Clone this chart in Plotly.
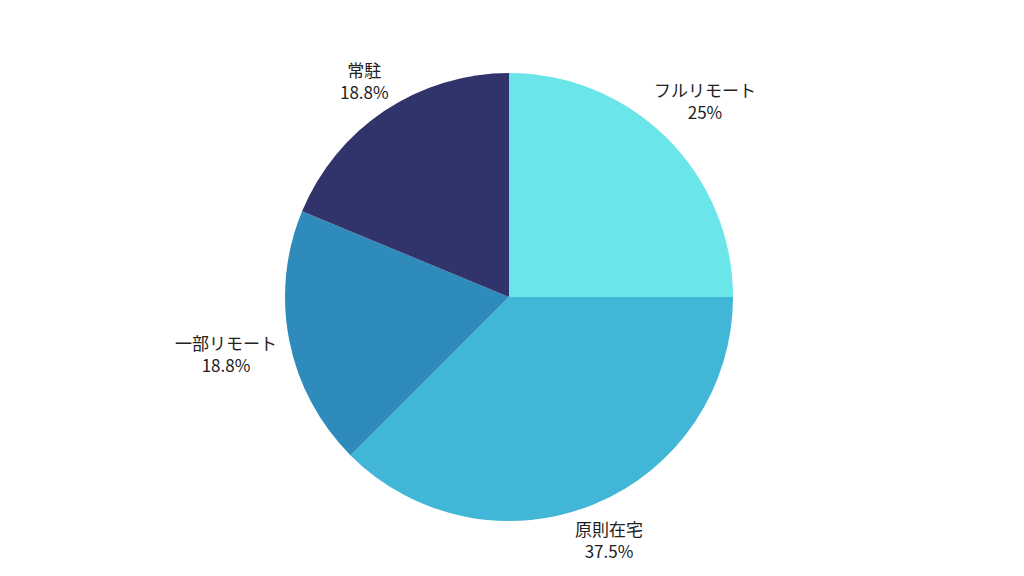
import math
import plotly.graph_objects as go

# Work style breakdown
labels = ["フルリモート", "原則在宅", "一部リモート", "常駐"]
values = [4, 6, 3, 3]
colors = ["#6AE5E9", "#42B6D6", "#2E8BBB", "#31336B"]

W, H = 1024, 576
CX, CY, R = 501, 289, 224   # pie centre / radius in figure px (page adds 8px body margin)
FONT = 17
LINE_H = 22
GAP = 14

fig = go.Figure()

fig.add_trace(go.Pie(
    labels=labels,
    values=values,
    sort=False,
    direction="clockwise",
    rotation=0,
    domain=dict(x=[(CX - R) / W, (CX + R) / W], y=[1 - (CY + R) / H, 1 - (CY - R) / H]),
    marker=dict(colors=colors, line=dict(width=0)),
    textposition="none",
    hovertemplate="%{label}<br>%{percent}<extra></extra>",
    showlegend=False,
))


def text_width(s):
    return sum(FONT if ord(c) > 0x2000 else 0.58 * FONT for c in s)


# outside labels, placed along each slice's mid angle
total = sum(values)
cum = 0
for lab, v in zip(labels, values):
    theta = 2 * math.pi * (cum + v / 2) / total
    cum += v
    pct = f"{v / total * 100:.1f}".rstrip("0").rstrip(".") + "%"
    ux, uy = math.sin(theta), math.cos(theta)
    hw = max(text_width(lab), text_width(pct)) / 2
    hh = LINE_H
    ext = math.hypot(hw * ux, hh * uy)
    d = R + GAP + ext
    fig.add_annotation(
        x=(CX + d * ux) / W,
        y=1 - (CY - d * uy) / H,
        xref="paper", yref="paper",
        text=f"{lab}<br>{pct}",
        showarrow=False,
        xanchor="center", yanchor="middle",
        font=dict(family="Noto Sans CJK JP", size=FONT, color="#222222"),
    )

fig.update_layout(
    width=W,
    height=H,
    paper_bgcolor="white",
    plot_bgcolor="white",
    margin=dict(l=0, r=0, t=0, b=0),
)

fig.write_html("out.html")
